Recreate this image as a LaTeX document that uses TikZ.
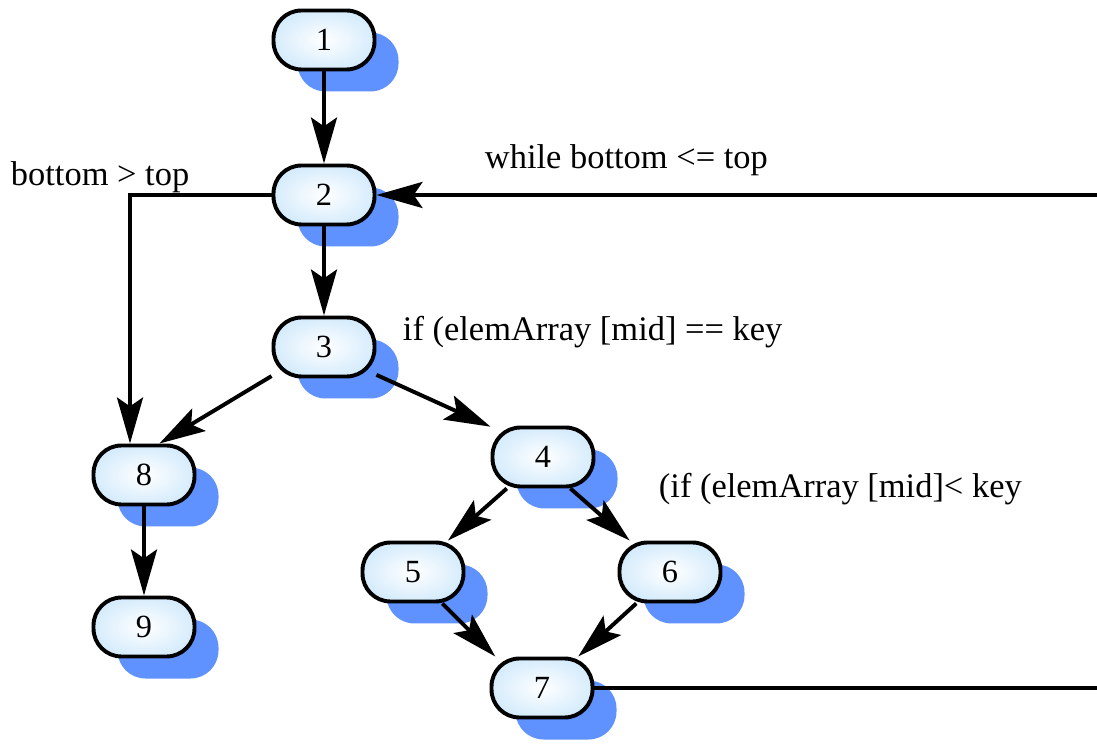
\documentclass[tikz,border=0pt]{standalone}
\usepackage{fontspec}
\setmainfont{Liberation Serif}
\usepackage{xcolor}
\usepackage{tikz}
\usetikzlibrary{arrows.meta,shadows}
\definecolor{shadowblue}{RGB}{95,145,255}
\definecolor{rimblue}{RGB}{214,236,252}

\begin{document}
\begin{tikzpicture}[
    font=\fontsize{23}{27}\selectfont,
    block/.style={draw, line width=2.8pt, rounded corners=0.7cm,
      minimum width=2.525cm, minimum height=1.475cm,
      inner color=white, outer color=rimblue,
      drop shadow={shadow xshift=0.6cm, shadow yshift=-0.55cm, fill=shadowblue, opacity=1}},
    cond/.style={anchor=west, font=\fontsize{24.5}{28}\selectfont},
    flow/.style={line width=2.8pt, -{Stealth[length=1.15cm, width=0.65cm, inset=0.22cm]}}
  ]
        \useasboundingbox (0, 0) rectangle (27.425, 18.675);
        \clip (0, 0) rectangle (27.425, 18.675);
        % flow graph nodes
        \foreach \n/\x/\y in {1/8.1/17.675, 2/8.1/13.8, 3/8.1/10.0, 4/13.575/7.25,
                             5/10.325/4.375, 6/16.75/4.375, 7/13.55/1.475, 8/3.6/6.8, 9/3.6/3.0} {
          \node[block] (n\n) at (\x, \y) {\n};
        }
        % straight edges
        \draw[flow] (n1) -- (n2);
        \draw[flow] (n2) -- (n3);
        \draw[flow] (n8) -- (n9);
        \draw[flow] (n3.209) -- (n8.64);
        \draw[flow] (n3.-28) -- (n4.150);
        \draw[flow] (n4.221) -- (n5.42);
        \draw[flow] (n4.-49) -- (n6.142);
        \draw[flow] (n5.-47) -- (n7.146);
        \draw[flow] (n6.223) -- (n7.41);
        % loop exit and loop back
        \draw[flow] (n2.west) -| ([xshift=-0.35cm]n8.north);
        \coordinate (loopcorner) at (28, 10);
        \draw[flow] (n7.east) -| (loopcorner) |- (n2.east);
        % conditions
        \node[cond] (exitlbl) at (0.15, 14.25) {bottom > top};
        \node[cond] (looplbl) at (12.0, 14.68) {while bottom <= top};
        \node[cond] (foundlbl) at (9.95, 10.38) {if (elemArray [mid] == key};
        \node[cond] (lesslbl) at (16.35, 6.45) {(if (elemArray [mid]< key};
      \end{tikzpicture}
\end{document}
